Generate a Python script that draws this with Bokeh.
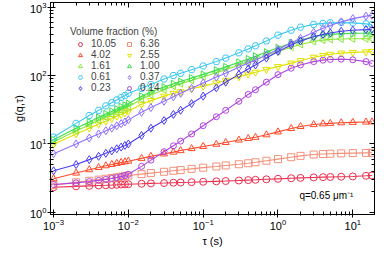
from bokeh.plotting import figure
from bokeh.models import (LogAxis, LogTicker, Legend, LegendItem, Label, Range1d,
                          CustomJSTickFormatter)
from bokeh.embed import file_html
from bokeh.resources import INLINE

# ---- data ----
tau = [0.001, 0.002, 0.003, 0.004, 0.005, 0.006, 0.007, 0.008, 0.009, 0.01,
       0.015, 0.02, 0.03, 0.04, 0.05, 0.07, 0.1, 0.15, 0.2, 0.3, 0.4, 0.5, 0.7,
       1, 1.5, 2, 3, 4, 5, 7, 10, 15, 18]

fractions = ["10.05", "6.36", "4.02", "2.55", "1.61", "1.00", "0.61", "0.37", "0.23", "0.14"]

g_1005 = [2.33, 2.40, 2.44, 2.47, 2.49, 2.51, 2.53, 2.55, 2.57, 2.58, 2.62, 2.65, 2.68, 2.71,
          2.73, 2.76, 2.80, 2.84, 2.87, 2.92, 2.96, 2.99, 3.04, 3.09, 3.15, 3.19, 3.24, 3.27,
          3.29, 3.32, 3.35, 3.42, 3.46]
g_636 = [2.50, 2.75, 2.90, 3.01, 3.10, 3.18, 3.25, 3.32, 3.39, 3.45, 3.62, 3.75, 3.92, 4.05,
         4.15, 4.32, 4.50, 4.68, 4.85, 5.05, 5.22, 5.40, 5.68, 6.00, 6.40, 6.70, 7.00, 7.12,
         7.20, 7.28, 7.35, 7.40, 7.42]
g_402 = [3.10, 3.75, 4.20, 4.52, 4.80, 5.02, 5.20, 5.36, 5.48, 5.60, 6.15, 6.60, 7.15, 7.60,
         8.00, 8.55, 9.20, 9.90, 10.5, 11.4, 12.0, 12.5, 13.6, 15.0, 16.8, 18.0, 19.2, 19.7,
         20.0, 20.4, 20.7, 20.9, 21.0]
g_255 = [9.9, 14, 17, 19.5, 21.5, 23.5, 25.5, 27, 28.5, 30, 38, 43, 50, 55, 58, 64, 70, 78,
         85, 96, 105, 112, 123, 135, 152, 165, 185, 197, 205, 213, 218, 222, 225]
g_161 = [10.8, 15.5, 19, 22, 24.5, 27, 29, 31, 33, 35, 45, 52, 62, 70, 76, 85, 96, 110, 122,
         142, 158, 172, 196, 225, 260, 285, 315, 330, 338, 342, 345, 345, 345]
g_100 = [11.5, 17, 21, 24.5, 27.5, 30, 32.5, 35, 37, 39, 50, 58, 68, 76, 82, 92, 104, 120,
         134, 156, 175, 192, 220, 255, 300, 330, 370, 390, 400, 410, 415, 415, 410]
g_061 = [12.6, 20, 26, 31, 36, 40, 44, 48, 51, 55, 65, 74, 89, 100, 108, 122, 138, 160, 180,
         215, 245, 272, 320, 390, 460, 510, 560, 580, 590, 595, 590, 570, 555]
g_037 = [7.2, 10, 12.2, 14, 15.6, 17, 18.4, 19.8, 21, 22.5, 29, 34, 42, 49, 55, 65, 78, 95,
         108, 132, 152, 168, 200, 240, 300, 350, 430, 490, 540, 610, 680, 740, 760]
g_023 = [4.05, 5.0, 5.9, 6.6, 7.3, 7.9, 8.5, 9.0, 9.5, 10, 13.3, 17, 22, 27, 31, 39, 50, 66,
         80, 104, 125, 143, 180, 225, 280, 320, 370, 400, 420, 445, 460, 470, 475]
g_014 = [2.55, 2.7, 2.82, 2.93, 3.03, 3.13, 3.23, 3.33, 3.45, 3.6, 4.7, 5.8, 7.7, 9.4, 11, 14,
         18.5, 25, 31, 42, 53, 62, 80, 103, 128, 143, 160, 168, 172, 174, 170, 160, 150]

series = [g_1005, g_636, g_402, g_255, g_161, g_100, g_061, g_037, g_023, g_014]

# ---- styles ----
colors = ["#ee2f4f", "#f4907a", "#ff4a2a", "#e2e200", "#8ee63a", "#3ee04a",
          "#3cc8f0", "#9070ff", "#4a3cf0", "#b044e0"]
markers = ["circle", "square", "triangle", "inverted_triangle", "triangle", "triangle",
           "hex", "diamond", "diamond", "circle"]
angles = [0, 0, 0, 0, 1.5708, -1.5708, 0, 0, 0, 0]
sizes = [7, 7, 7, 7, 7, 7, 7, 8, 8, 6]

FONT = "Liberation Sans"

p = figure(width=376, height=249, x_axis_type="log", y_axis_type="log",
           x_range=Range1d(0.00091, 19.5), y_range=Range1d(0.93, 1170),
           output_backend="svg", toolbar_location=None,
           min_border_left=50, min_border_right=2, min_border_top=2, min_border_bottom=0)
p.xgrid.visible = False
p.ygrid.visible = False
p.outline_line_color = "black"
p.background_fill_color = "white"
p.border_fill_color = "white"

renderers = []
for g, c, m, a, s in zip(series, colors, markers, angles, sizes):
    p.line(tau, g, line_color=c, line_width=1.1)
    r = p.scatter(tau, g, marker=m, angle=a, size=s, fill_color=None,
                  line_color=c, line_width=1)
    renderers.append(r)

# main axes
for ax in (p.xaxis[0], p.yaxis[0]):
    ax.major_tick_in = 5
    ax.major_tick_out = 3
    ax.minor_tick_in = 3
    ax.minor_tick_out = 1
    ax.axis_line_color = "black"
    ax.major_tick_line_color = "black"
    ax.minor_tick_line_color = "black"
    ax.major_label_text_font = FONT
    ax.major_label_text_font_size = "11px"
    ax.major_label_text_color = "black"
    ax.axis_label_text_font = FONT
    ax.axis_label_text_font_size = "11px"
    ax.axis_label_text_font_style = "normal"
    ax.axis_label_text_color = "black"
    ax.major_label_standoff = 1
    ax.axis_label_standoff = 2

p.xaxis[0].axis_label = "τ (s)"
p.yaxis[0].axis_label = "g(q,τ)"

# mirror axes (ticks only)
top = LogAxis(ticker=LogTicker(num_minor_ticks=10), formatter=CustomJSTickFormatter(code="return ''"))
right = LogAxis(ticker=LogTicker(num_minor_ticks=10), formatter=CustomJSTickFormatter(code="return ''"))
for ax in (top, right):
    ax.major_tick_in = 5
    ax.major_tick_out = 0
    ax.minor_tick_in = 3
    ax.minor_tick_out = 0
    ax.major_label_text_font_size = "0px"
    ax.major_label_standoff = 0
    ax.axis_line_color = "black"
p.add_layout(top, "above")
p.add_layout(right, "right")

# legend (row-major, two columns)
items = [LegendItem(label=fractions[i], renderers=[renderers[i]]) for i in range(len(fractions))]
legend = Legend(items=items, title="Volume fraction (%)", ncols=2, orientation="horizontal",
                location=(20, 121), padding=0, margin=0, spacing=0,
                glyph_width=20, glyph_height=10, label_height=10, label_width=28,
                label_standoff=1,
                label_text_font=FONT, label_text_font_size="10px",
                title_text_font=FONT, title_text_font_size="10px",
                title_text_font_style="normal", title_standoff=1,
                background_fill_alpha=0, border_line_color=None)
p.add_layout(legend, "center")

p.add_layout(Label(x=10.2, y=1.74, text="q=0.65 μm⁻¹", text_align="right",
                   text_baseline="middle", text_font=FONT, text_font_size="10px",
                   text_color="black"))

open("out.html", "w").write(file_html(p, INLINE))
